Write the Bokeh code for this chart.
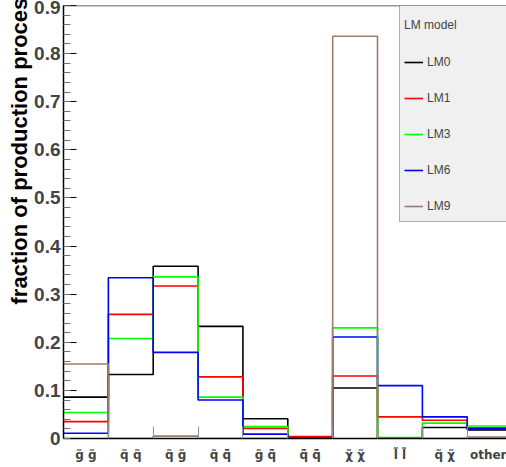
from bokeh.embed import file_html
from bokeh.models import (BoxAnnotation, FixedTicker, Legend, LegendItem,
                          Range1d, Span, Title)
from bokeh.plotting import figure
from bokeh.resources import INLINE

# Production-process categories (x bins) and their axis labels
processes = ["g\u0303 g\u0303", "q\u0303 q\u0303", "q\u0303 g\u0303", "q\u0303 q\u0303\u0304",
             "g\u0303 q\u0303\u0304", "q\u0303\u0304 q\u0303\u0304", "\u03c7\u0303 \u03c7\u0303",
             "l\u0303 l\u0303", "q\u0303 \u03c7\u0303", "other"]

# Fraction of each production process per benchmark point
lm0 = [0.086, 0.133, 0.358, 0.233, 0.041, 0.001, 0.105, 0.001, 0.023, 0.018]
lm1 = [0.035, 0.258, 0.317, 0.128, 0.021, 0.004, 0.130, 0.045, 0.038, 0.022]
lm3 = [0.054, 0.208, 0.336, 0.086, 0.025, 0.001, 0.230, 0.002, 0.032, 0.026]
lm6 = [0.011, 0.334, 0.179, 0.080, 0.009, 0.001, 0.211, 0.110, 0.045, 0.020]
lm9 = [0.155, 0.000, 0.005, 0.000, 0.000, 0.000, 0.836, 0.000, 0.000, 0.003]

models = ["LM0", "LM1", "LM3", "LM6", "LM9"]
series = [lm0, lm1, lm3, lm6, lm9]
colors = ["#000000", "#ff0000", "#00ff00", "#0000ff", "#9b7d6e"]

y_ticks = [0, 0.1, 0.2, 0.3, 0.4, 0.5, 0.6, 0.7, 0.8, 0.9]
y_tick_labels = ["0", "0.1", "0.2", "0.3", "0.4", "0.5", "0.6", "0.7", "0.8", "0.9"]

# Canvas layout (pixels)
W, H = 506, 467
LEFT, TOP, BOTTOM = 63, 5, 29
BIN_PX = 44.86
Y_MAX = 0.9
frame_h = H - TOP - BOTTOM
px_per_unit = frame_h / Y_MAX
x_end = (W - LEFT) / BIN_PX


def x_at(px):
    return (px - LEFT) / BIN_PX


def y_at(py):
    return Y_MAX - (py - TOP) / px_per_unit


FONT = "Liberation Sans"

p = figure(width=W, height=H, x_range=Range1d(0, x_end), y_range=Range1d(0, Y_MAX),
           output_backend="svg", toolbar_location=None,
           min_border_left=LEFT, min_border_right=0, min_border_top=TOP,
           min_border_bottom=BOTTOM, outline_line_color=None,
           background_fill_color="white", border_fill_color="white")
p.grid.visible = False

# x axis: labels at bin centres, small ticks at bin edges
n = len(processes)
centers = [i + 0.5 for i in range(n)]
edges = list(range(n + 1))
xa = p.xaxis[0]
xa.ticker = FixedTicker(ticks=centers, minor_ticks=edges)
xa.major_label_overrides = {c: lab for c, lab in zip(centers, processes)}
xa.major_tick_line_color = None
xa.minor_tick_in = 12
xa.minor_tick_out = 0
xa.minor_tick_line_color = "#909090"
xa.axis_line_color = "black"
xa.axis_line_width = 1.5
xa.major_label_text_font = "DejaVu Sans"
xa.major_label_text_font_style = "bold"
xa.major_label_text_font_size = "12px"
xa.major_label_standoff = 3

# y axis: inward ticks, 0.02 minor spacing
ya = p.yaxis[0]
ya.ticker = FixedTicker(ticks=y_ticks, minor_ticks=[round(i * 0.02, 2) for i in range(46)])
ya.major_label_overrides = {t: lab for t, lab in zip(y_ticks, y_tick_labels)}
ya.major_tick_in = 13
ya.major_tick_out = 0
ya.minor_tick_in = 7
ya.minor_tick_out = 0
ya.major_tick_line_color = "black"
ya.minor_tick_line_color = "#707070"
ya.axis_line_color = "black"
ya.axis_line_width = 1.5
ya.major_label_text_font = FONT
ya.major_label_text_font_style = "bold"
ya.major_label_text_font_size = "19px"
ya.major_label_standoff = 3

# y axis title, starting low on the axis and running up past the top
p.add_layout(Title(text="fraction of production process", align="left",
                   offset=436 - 302, standoff=0, text_font=FONT,
                   text_font_style="bold", text_font_size="22px",
                   text_color="black"), "left")

# top frame line
p.add_layout(Span(location=Y_MAX, dimension="width", line_color="#333333", line_width=1.5))

# histograms drawn as steps over the bins
renderers = []
for vals, col in zip(series, colors):
    r = p.step(x=edges, y=vals + [vals[-1]], mode="after", line_color=col, line_width=1.6)
    renderers.append(r)

# legend panel
p.add_layout(BoxAnnotation(left=x_at(399), right=x_at(520), top=Y_MAX, bottom=y_at(221),
                           fill_color="#f0f0f0", fill_alpha=1.0,
                           line_color="black", line_width=1))
legend = Legend(items=[LegendItem(label=m, renderers=[r]) for m, r in zip(models, renderers)],
                location=(404 - LEFT, H - BOTTOM - 216), margin=0, padding=5,
                title="LM model", title_text_font=FONT, title_text_font_size="12px",
                title_text_font_style="normal", title_standoff=20,
                label_text_font=FONT, label_text_font_size="12px",
                glyph_width=19, glyph_height=20, spacing=16, label_standoff=4,
                label_width=67, background_fill_alpha=0, border_line_color=None)
p.add_layout(legend)

with open("out.html", "w") as f:
    f.write(file_html(p, INLINE))
